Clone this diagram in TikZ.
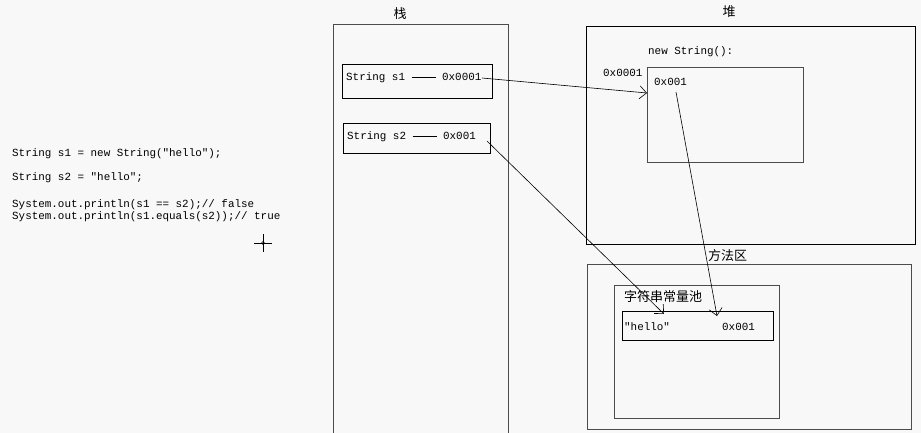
\documentclass[tikz,border=0pt]{standalone}
\usepackage{fontspec}
\setmonofont{Liberation Mono}
\newfontfamily\cjk{Noto Sans CJK SC}
\usetikzlibrary{arrows.meta}
\definecolor{bg}{HTML}{F8F8F8}
\tikzset{
  box/.style={draw=black, line width=0.8pt},
  gbox/.style={draw=black!70, line width=0.9pt},
  mono/.style={font=\ttfamily\fontsize{10.9}{12}\selectfont, inner sep=0pt},
  cn/.style={font=\cjk\fontsize{13}{15}\selectfont, inner sep=0pt},
  ptr/.style={line width=0.6pt, -{Straight Barb[length=7pt,width=13pt,line width=0.6pt]}}
}
\begin{document}
\begin{tikzpicture}[x=1pt,y=-1pt]
\useasboundingbox (0,0) rectangle (921,433);
\fill[bg] (0,0) rectangle (921,433);
% code
\node[mono, anchor=west] (c1) at (12,154) {String s1 = new String("hello");};
\node[mono, anchor=west] (c2) at (12,178) {String s2 = "hello";};
\node[mono, anchor=west] (c3) at (12,205) {System.out.println(s1 == s2);// false};
\node[mono, anchor=west] (c4) at (12,217) {System.out.println(s1.equals(s2));// true};
% crosshair
\draw[line width=0.6pt] (254,243) -- (272,243) (263,234) -- (263,252);
\draw[line width=0.5pt] (263,243) circle (1.5);
% stack
\draw[gbox] (333,434) -- (333,24) -- (508,24) -- (508,434);
\node[cn] (stk) at (400,14) {栈};
\draw[box] (342,64) rectangle (492,98);
\node[mono, anchor=west] (s1) at (346,78) {String s1 \rule[0.55ex]{24pt}{0.5pt} 0x0001};
\draw[box] (343,123) rectangle (490,153);
\node[mono, anchor=west] (s2) at (347,137) {String s2 \rule[0.55ex]{24pt}{0.5pt} 0x001};
% heap
\draw[box] (586,26) rectangle (915,244);
\node[cn] (heap) at (729,12) {堆};
\node[mono, anchor=west] (ns) at (648,52) {new String():};
\draw[gbox] (647,67) rectangle (803,162);
\node[mono, anchor=west] (hv) at (654,82) {0x001};
\node[mono, anchor=west] (ha) at (603,73) {0x0001};
% method area
\draw[gbox] (587,264) rectangle (911,429);
\node[cn, anchor=west] (ma) at (708,256) {方法区};
\draw[gbox] (614,285) rectangle (779,418);
\node[cn, anchor=west] (pool) at (624,297) {字符串常量池};
\draw[box] (622,311) rectangle (773,340);
\node[mono, anchor=west] (hello) at (624,327) {"hello"};
\node[mono, anchor=west] (pv) at (722,327) {0x001};
% arrows
\coordinate (a1s) at (482,78);
\coordinate (a1e) at (647,93);
\coordinate (a2s) at (487,141);
\coordinate (a2e) at (664,314);
\coordinate (a3s) at (676,92);
\coordinate (a3e) at (717,316);
\draw[ptr] (a1s) -- (a1e);
\draw[ptr] (a2s) -- (a2e);
\draw[ptr] (a3s) -- (a3e);
\end{tikzpicture}
\end{document}
